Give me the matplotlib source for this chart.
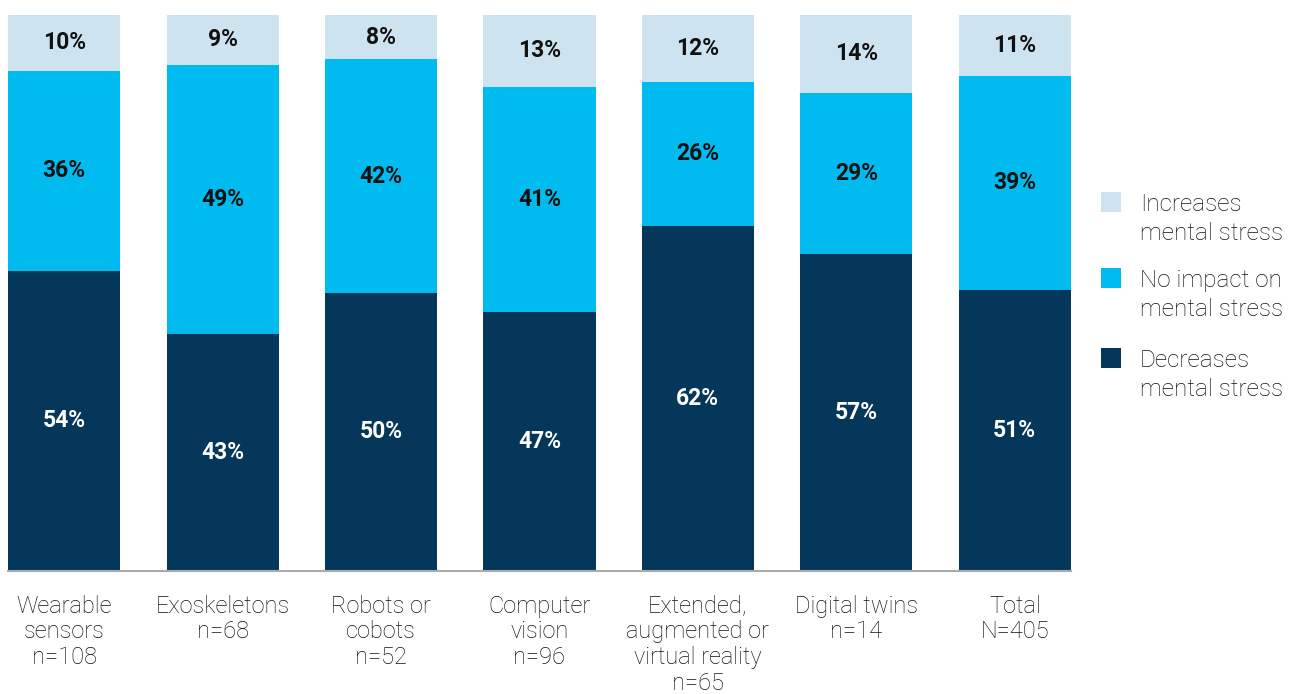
import numpy as np
import matplotlib.pyplot as plt
from matplotlib.patches import Rectangle

categories = ['Wearable\nsensors\nn=108', 'Exoskeletons\nn=68', 'Robots or\ncobots\nn=52',
              'Computer\nvision\nn=96', 'Extended,\naugmented or\nvirtual reality\nn=65',
              'Digital twins\nn=14', 'Total\nN=405']
decreases = [54, 43, 50, 47, 62, 57, 51]
no_impact = [36, 49, 42, 41, 26, 29, 39]
increases = [10, 9, 8, 13, 12, 14, 11]

series_names = ['Decreases\nmental stress', 'No impact on\nmental stress', 'Increases\nmental stress']
colors = ['#05375a', '#00bbf0', '#cde4f0']
text_colors = ['white', '#111111', '#111111']

plt.rcParams['font.family'] = ['Roboto', 'DejaVu Sans']

W, H = 1301, 694
fig = plt.figure(figsize=(W / 100, H / 100), dpi=100)
ax = fig.add_axes([8 / W, 1 - 571 / H, 1063 / W, (571 - 15) / H])

x = np.arange(len(categories))
series = np.array([decreases, no_impact, increases], dtype=float)
totals = series.sum(axis=0)
shares = series / totals

bottom = np.zeros(len(categories))
for vals, share, col, tcol in zip(series, shares, colors, text_colors):
    ax.bar(x, share, bottom=bottom, width=0.707, color=col, linewidth=0)
    for xi, b, s, v in zip(x, bottom, share, vals):
        ax.text(xi, b + s / 2, f'{int(v)}%', ha='center', va='center',
                fontsize=16.5, fontweight='bold', color=tcol)
    bottom += share

ax.set_xlim(-0.355, len(categories) - 1 + 0.355)
ax.set_ylim(0, 1)
ax.axhline(0, color='#aaaaaa', lw=1.5, clip_on=False)
for s in ax.spines.values():
    s.set_visible(False)
ax.set_yticks([])
ax.set_xticks(x)
ax.set_xticklabels(categories, fontsize=17, fontweight='light', color='#111111',
                   linespacing=1.16)
ax.tick_params(axis='x', length=0, pad=17)

# legend, top entry first
for i, (name, col) in enumerate(zip(series_names[::-1], colors[::-1])):
    top = [192, 268, 348][i]
    fig.patches.append(Rectangle((1101 / W, 1 - (top + 20) / H), 20 / W, 20 / H,
                                 transform=fig.transFigure, color=col, lw=0))
    fig.text(1140 / W, 1 - (top + 1) / H, name, ha='left', va='top',
             fontsize=17.5, fontweight='light', color='#111111', linespacing=1.32)

fig.savefig('out.png', dpi=100)
